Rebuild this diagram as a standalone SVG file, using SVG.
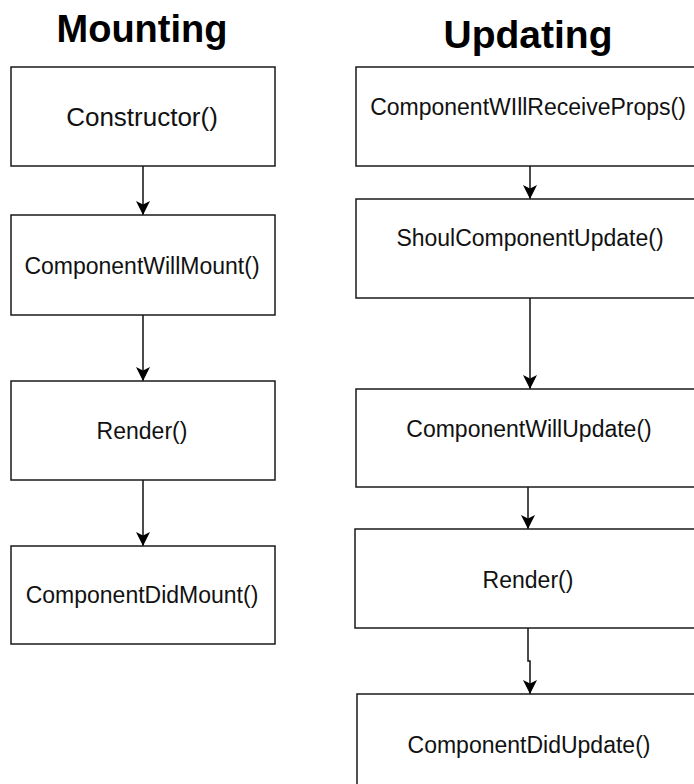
<svg xmlns="http://www.w3.org/2000/svg" width="694" height="784" viewBox="0 0 694 784">
  <style>
    .box { fill: #ffffff; stroke: #1a1a1a; stroke-width: 1.5; }
    .lbl { font-family: "Liberation Sans", Arial, sans-serif; font-size: 23px; fill: #111; text-anchor: middle; }
    .title { font-family: "Liberation Sans", Arial, sans-serif; font-size: 38px; font-weight: bold; fill: #000; text-anchor: middle; }
    .edge { fill: none; stroke: #111; stroke-width: 1.5; }
  </style>
  <defs>
    <marker id="arrow" markerUnits="userSpaceOnUse" markerWidth="16" markerHeight="18" viewBox="0 0 16 18" refX="15" refY="9" orient="auto">
      <path d="M1,2 L15,9 L1,16 L4.5,9 Z" fill="#000"/>
    </marker>
  </defs>
  <rect width="694" height="784" fill="#ffffff"/>

  <text class="title" x="142" y="42">Mounting</text>
  <text class="title" x="528" y="48" style="font-size:39px">Updating</text>

  <g id="connectors">
    <path class="edge" d="M143,166 V215" marker-end="url(#arrow)"/>
    <path class="edge" d="M143,315 V381" marker-end="url(#arrow)"/>
    <path class="edge" d="M143,480 V546" marker-end="url(#arrow)"/>
    <path class="edge" d="M530,166 V199" marker-end="url(#arrow)"/>
    <path class="edge" d="M530,298 V389" marker-end="url(#arrow)"/>
    <path class="edge" d="M528,487 V529" marker-end="url(#arrow)"/>
    <path class="edge" d="M528,628 V661 H530 V694" marker-end="url(#arrow)"/>
  </g>

  <g id="constructor">
    <rect class="box" x="11" y="67" width="264" height="99"/>
    <text class="lbl" x="142" y="126" style="font-size:26px">Constructor()</text>
  </g>
  <g id="componentWillMount">
    <rect class="box" x="11" y="215" width="264" height="100"/>
    <text class="lbl" x="142" y="274">ComponentWillMount()</text>
  </g>
  <g id="renderMount">
    <rect class="box" x="11" y="381" width="264" height="99"/>
    <text class="lbl" x="142" y="439">Render()</text>
  </g>
  <g id="componentDidMount">
    <rect class="box" x="11" y="546" width="264" height="98"/>
    <text class="lbl" x="142" y="603">ComponentDidMount()</text>
  </g>

  <g id="componentWillReceiveProps">
    <rect class="box" x="356" y="67" width="348" height="99"/>
    <text class="lbl" x="528" y="115">ComponentWIllReceiveProps()</text>
  </g>
  <g id="shouldComponentUpdate">
    <rect class="box" x="356" y="199" width="348" height="99"/>
    <text class="lbl" x="530" y="246">ShoulComponentUpdate()</text>
  </g>
  <g id="componentWillUpdate">
    <rect class="box" x="356" y="389" width="348" height="98"/>
    <text class="lbl" x="529" y="437">ComponentWillUpdate()</text>
  </g>
  <g id="renderUpdate">
    <rect class="box" x="355" y="529" width="348" height="99"/>
    <text class="lbl" x="528" y="588">Render()</text>
  </g>
  <g id="componentDidUpdate">
    <rect class="box" x="357" y="694" width="348" height="100"/>
    <text class="lbl" x="529" y="753">ComponentDidUpdate()</text>
  </g>
</svg>
